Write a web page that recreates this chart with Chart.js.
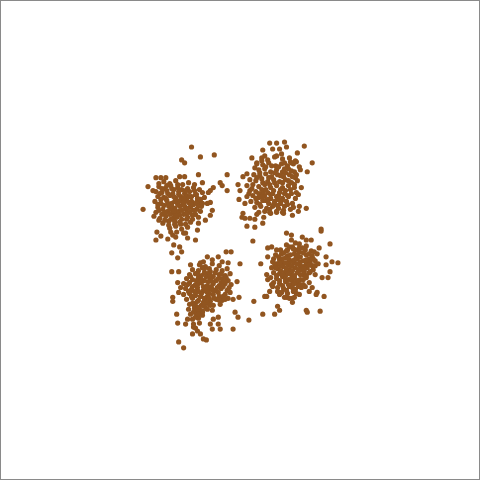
<!DOCTYPE html>
<html><head><meta charset="utf-8">
<script src="https://cdn.jsdelivr.net/npm/chart.js@4/dist/chart.umd.min.js"></script>
<style>html,body{margin:0;padding:0;background:#fff}canvas{display:block}</style>
</head><body>
<canvas id="c" width="480" height="480"></canvas>
<script>
// Values (x right, y down, in a 0-480 data frame), as [x, y]
const coreA = [[163,181],[169,183],[175,180],[188,182],[194,184],
 [158,186],[164,188],[170,185],[177,187],[182,184],[187,188],[193,187],[199,189],
 [155,191],[161,192],[166,190],[172,193],[178,191],[184,193],[189,191],[195,194],[202,192],
 [157,196],[163,197],[169,195],[175,198],[180,196],[186,199],[191,196],[197,198],[204,197],
 [154,201],[160,203],[166,200],[171,203],[177,201],[182,204],[188,202],[193,204],[199,202],
 [157,207],[162,209],[168,206],[174,208],[179,206],[185,209],[190,207],[196,209],[201,206],
 [155,212],[161,214],[167,211],[172,213],[178,211],[183,214],[189,212],[195,214],[200,211],
 [159,218],[165,216],[170,219],[176,217],[181,219],[187,217],[192,219],[198,217],
 [162,223],[168,221],[174,224],[179,222],[185,224],[190,222],
 [169,228],[175,226],[181,229],[187,227],[176,232],[183,233],
 [166,185],[173,189],[181,189],[186,195],[174,201],[180,200],[184,206],[176,212],[170,209],
 [191,201],[163,205],[179,215],[186,213],[172,218],[194,190],[160,199],
 [161,188],[167,193],[173,196],[178,194],[183,198],[189,196],[196,202],[158,210],[164,212],[169,214],
 [175,215],[181,210],[187,208],[193,210],[198,206],[165,198],[171,206],[177,204],[183,202],[190,204],
 [196,194],[200,199],[167,203],[173,211],[186,219],[180,224],[174,221],[168,225],[164,220],[192,215],
 [185,190],[171,188],[177,184],[159,193],[157,204],[202,203]];
const coreB = [[262,157],[268,159],[275,156],[283,158],[290,157],[296,160],
 [257,163],[263,164],[269,162],[276,165],[282,163],[288,165],[294,163],[300,166],
 [259,169],[265,168],[271,171],[277,169],[283,171],[289,168],[295,171],[301,169],
 [254,174],[260,175],[266,173],[272,176],[278,174],[284,176],[290,174],[296,177],
 [250,179],[256,180],[262,178],[268,181],[274,179],[280,181],[286,179],[292,182],[298,180],
 [247,185],[253,184],[259,186],[265,184],[271,187],[277,185],[283,187],[289,185],[295,187],
 [250,190],[256,191],[262,189],[268,192],[274,190],[280,192],[286,190],[292,193],
 [247,196],[253,195],[259,197],[265,195],[271,198],[277,196],[283,198],[289,196],[296,198],
 [251,201],[257,202],[263,200],[269,203],[275,201],[281,203],[287,201],[293,203],
 [255,207],[261,206],[267,208],[273,206],[279,208],[285,206],[291,209],
 [259,212],[265,211],[271,213],[277,211],[284,213],[264,217],
 [279,166],[286,172],[275,182],[269,177],[281,189],[263,192],[288,195],[271,194],[278,199],[266,200],
 [266,166],[272,165],[285,168],[292,170],[260,172],[275,172],[281,175],[293,176],[257,177],[263,182],
 [270,184],[283,182],[289,180],[295,184],[252,188],[259,193],[266,189],[273,193],[279,195],[285,193],
 [291,189],[256,198],[262,196],[268,199],[274,204],[282,200],[288,204],[260,204],[270,209],[278,205],
 [284,210],[249,193],[297,174],[299,194],[294,207],[262,160],[291,161]];
const coreC = [[199,265],[205,267],[212,264],[219,266],
 [192,270],[198,271],[204,269],[210,272],[216,270],[222,271],[227,269],
 [189,275],[195,274],[201,276],[207,274],[213,277],[219,275],[225,276],[230,274],
 [186,279],[192,280],[198,278],[204,281],[210,279],[216,281],[222,279],[228,281],
 [183,284],[189,283],[195,285],[201,283],[207,286],[213,284],[219,286],[225,284],[231,285],
 [185,289],[191,290],[197,288],[203,291],[209,289],[215,291],[221,289],[227,291],
 [183,295],[189,294],[195,296],[201,294],[207,297],[213,295],[219,297],[225,295],
 [186,300],[192,299],[198,301],[204,299],[210,302],[216,300],[222,301],[228,299],
 [189,305],[195,304],[201,306],[207,304],[213,306],[220,305],
 [188,310],[194,309],[200,311],[206,309],[212,311],
 [190,315],[196,314],[202,316],[192,320],[198,319],[193,325],[199,324],[195,329],
 [206,277],[212,282],[203,287],[217,288],[209,294],[198,292],[214,299],[205,301],[221,283],[194,307],
 [202,268],[209,269],[215,273],[221,274],[197,274],[204,273],[210,276],[226,278],[190,277],[196,281],
 [201,280],[208,282],[218,279],[224,282],[187,285],[192,287],[198,284],[205,288],[211,287],[223,287],
 [229,288],[188,292],[194,292],[200,297],[206,292],[212,290],[218,293],[223,297],[191,297],[197,302],
 [203,303],[209,299],[219,301],[225,300],[192,304],[198,308],[204,307],[210,306],[196,311],[202,313]];
const coreD = [[287,245],[293,247],[300,244],[307,246],
 [281,250],[287,251],[294,249],[300,252],[306,250],[312,251],
 [276,255],[282,254],[288,256],[295,254],[301,257],[307,255],[313,256],[318,254],
 [274,259],[280,260],[286,258],[292,261],[298,259],[304,261],[310,259],[316,261],
 [277,264],[283,263],[289,265],[295,263],[301,266],[307,264],[313,266],[319,264],
 [272,268],[278,269],[284,267],[290,270],[296,268],[302,270],[308,268],[314,270],
 [274,273],[280,274],[286,272],[292,275],[298,273],[304,275],[310,273],[316,275],
 [271,278],[277,279],[283,277],[289,280],[295,278],[301,280],[307,278],
 [274,283],[280,284],[286,282],[292,285],[298,283],[304,285],[310,283],
 [278,288],[284,289],[290,287],[296,290],[302,288],
 [282,293],[288,294],[294,292],[300,295],[287,298],[293,299],
 [290,262],[297,257],[286,276],[281,266],[293,281],[305,272],[299,287],[278,292],[288,250],[311,262],
 [290,247],[296,250],[303,248],[284,253],[291,255],[298,255],[304,253],[310,254],[279,257],[283,259],
 [289,259],[295,260],[301,262],[307,260],[314,259],[275,264],[280,263],[286,263],[292,266],[298,264],
 [304,267],[310,265],[316,266],[276,268],[281,271],[287,269],[293,271],[299,270],[305,269],[311,272],
 [277,276],[283,275],[289,274],[295,276],[301,275],[307,276],[280,281],[286,280],[292,279],[298,281],
 [304,280],[283,286],[289,285],[295,284],[301,285],[306,287],[287,291],[293,288],[297,294]];
// Scattered outer points [x, y]
const outerA = [[191,146],[181,159],[184,162],[200,156],[214,154],[198,174],[227,174],[147,186],[142,209],
 [179,176],[184,176],[155,177],[160,177],[165,177],[202,182],[220,182],[222,185],[213,187],[210,190],[208,192],
 [227,190],[152,190],[158,183],[210,202],[207,203],[212,210],[210,215],[205,220],[198,223],[197,230],[153,216],
 [158,220],[156,232],[160,236],[155,240],[167,239],[170,232],[172,235],[175,237],[185,233],[187,238],[195,240],
 [173,245],[179,247],[181,252],[171,253],[226,252],[231,252]];
const outerB = [[285,141],[270,142],[277,142],[305,145],[263,149],[287,146],[273,148],[280,148],[265,155],[252,157],
 [298,152],[277,155],[282,153],[313,162],[285,162],[292,162],[297,161],[257,162],[255,167],[308,171],[247,173],
 [243,176],[238,184],[240,190],[239,199],[245,203],[307,208],[300,206],[299,211],[297,192],[302,187],[243,213],
 [242,217],[245,218],[250,218],[255,219],[257,214],[263,223],[247,226],[255,227],[270,212],[277,212],[283,212],
 [293,215],[322,229]];
const outerC = [[177,258],[207,257],[218,257],[190,265],[200,263],[203,262],[212,260],[222,262],[228,263],[240,264],
 [171,272],[178,272],[177,283],[180,288],[178,293],[172,298],[172,302],[237,282],[230,293],[233,300],[239,298],
 [235,313],[238,318],[249,321],[233,330],[176,315],[177,324],[185,325],[187,320],[218,325],[220,330],[210,325],
 [212,330],[213,320],[218,318],[192,335],[197,332],[193,328],[200,335],[203,340],[206,341],[178,343],[183,349],
 [195,318],[198,315],[193,313],[202,312],[207,310]];
const outerD = [[253,241],[287,233],[292,235],[292,240],[303,237],[307,240],[312,240],[322,231],[268,248],[272,247],
 [277,250],[296,243],[300,248],[320,248],[331,244],[315,252],[327,257],[333,262],[339,263],[327,265],[331,272],
 [329,278],[323,278],[261,264],[268,257],[273,262],[267,275],[268,280],[272,285],[273,287],[265,297],[267,297],
 [254,302],[270,292],[280,295],[285,298],[290,299],[295,298],[293,303],[278,307],[280,311],[275,315],[263,315],
 [307,311],[308,313],[321,312],[313,288],[318,293],[317,295],[325,297],[310,292]];

const allPoints = [].concat(coreA, outerA, coreB, outerB, coreC, outerC, coreD, outerD)
  .map(([x, y]) => ({x, y}));

const frame = {
  id: 'frame',
  afterDraw(chart){
    const ctx = chart.ctx;
    ctx.save();
    ctx.strokeStyle = '#8a8a8a';
    ctx.lineWidth = 1;
    ctx.strokeRect(0.5, 0.5, chart.width - 1, chart.height - 1);
    ctx.restore();
  }
};

new Chart(document.getElementById('c'), {
  type: 'scatter',
  data: { datasets: [{
    data: allPoints,
    backgroundColor: 'rgb(145,85,32)',
    borderColor: 'rgb(145,85,32)',
    borderWidth: 0,
    pointRadius: 2.6,
    pointHoverRadius: 2.6
  }]},
  options: {
    responsive: false,
    animation: false,
    events: [],
    layout: { padding: 0 },
    plugins: { legend: { display: false }, tooltip: { enabled: false } },
    scales: {
      x: { type: 'linear', min: 0, max: 480, display: false },
      y: { type: 'linear', min: 0, max: 480, reverse: true, display: false }
    }
  },
  plugins: [frame]
});
</script>
</body></html>
